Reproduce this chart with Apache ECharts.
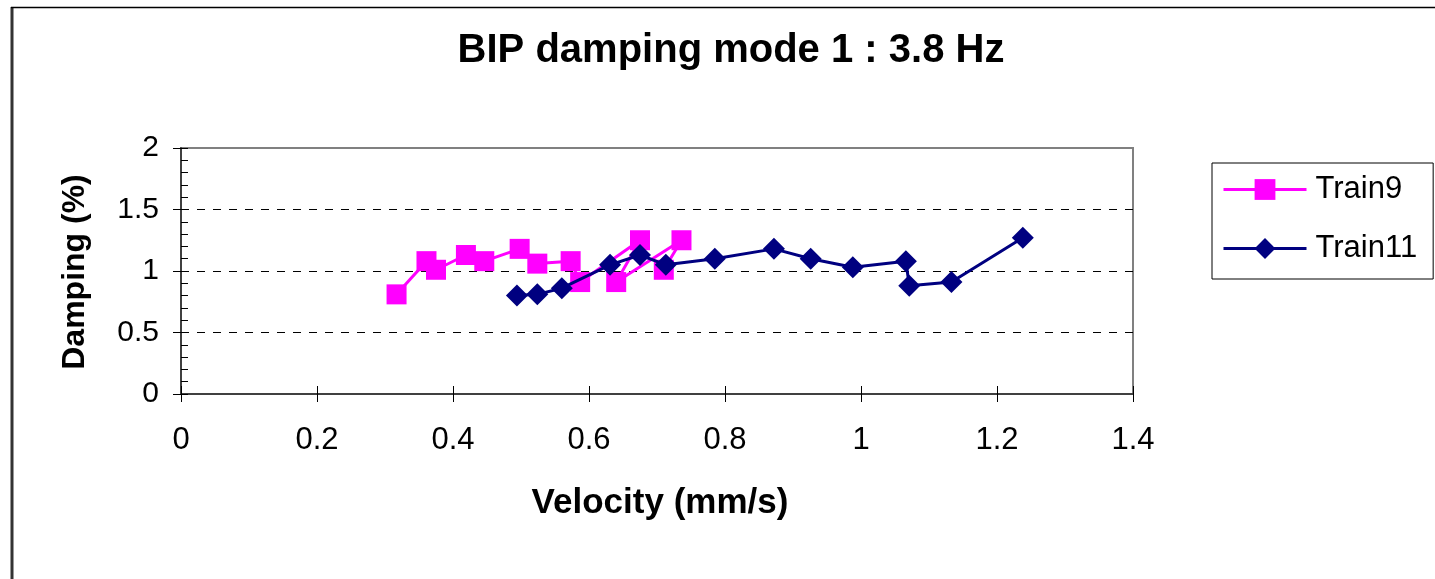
<!DOCTYPE html>
<html>
<head>
<meta charset="utf-8">
<script src="https://cdn.jsdelivr.net/npm/echarts@6/dist/echarts.min.js"></script>
<style>
html,body{margin:0;padding:0;background:#fff;}
#c{width:1435px;height:579px;}
</style>
</head>
<body>
<div id="c"></div>
<script>
const titleText = 'BIP damping mode 1 : 3.8 Hz';
const xAxisTitle = 'Velocity (mm/s)';
const yAxisTitle = 'Damping (%)';
const seriesNames = ['Train9', 'Train11'];

const train9X = [0.317, 0.361, 0.375, 0.419, 0.446, 0.498, 0.524, 0.573, 0.587, 0.675, 0.640, 0.736, 0.710];
const train9Y = [0.81, 1.08, 1.01, 1.13, 1.08, 1.18, 1.06, 1.08, 0.91, 1.25, 0.91, 1.25, 1.01];

const train11X = [0.494, 0.524, 0.560, 0.631, 0.675, 0.713, 0.785, 0.872, 0.926, 0.988, 1.066, 1.071, 1.133, 1.238];
const train11Y = [0.80, 0.81, 0.86, 1.05, 1.13, 1.05, 1.10, 1.18, 1.10, 1.03, 1.08, 0.88, 0.91, 1.27];

const xMin = 0, xMax = 1.4, xStep = 0.2;
const yMin = 0, yMax = 2, yStep = 0.5, yMinorStep = 0.1;

const FONT = '"Liberation Sans", Arial, sans-serif';

function pairs(xs, ys) { return xs.map((x, i) => [x, ys[i]]); }

const chart = echarts.init(document.getElementById('c'), null, {renderer: 'canvas'});
chart.setOption({
  animation: false,
  backgroundColor: '#fff',
  textStyle: {fontFamily: FONT},
  grid: {left: 181, top: 148, right: 302, bottom: 185, show: true, borderColor: '#808080', borderWidth: 2, backgroundColor: 'transparent'},
  graphic: [
    {type: 'line', shape: {x1: 12, y1: 7, x2: 12, y2: 579}, style: {stroke: '#333', lineWidth: 3}, silent: true},
    {type: 'line', shape: {x1: 11, y1: 7.5, x2: 1435, y2: 7.5}, style: {stroke: '#000', lineWidth: 1.5}, silent: true},
    {type: 'text', style: {text: titleText, font: 'bold 40px ' + FONT, fill: '#000', textAlign: 'center', textVerticalAlign: 'middle'}, x: 731, y: 51},
    {type: 'text', style: {text: xAxisTitle, font: 'bold 35px ' + FONT, fill: '#000', textAlign: 'center', textVerticalAlign: 'middle'}, x: 660, y: 503},
    {type: 'text', style: {text: yAxisTitle, font: 'bold 32px ' + FONT, fill: '#000', textAlign: 'center', textVerticalAlign: 'middle'}, x: 75, y: 272, rotation: Math.PI / 2}
  ],
  legend: {
    orient: 'vertical', left: 1212, top: 163,
    padding: [11, 16, 15, 10],
    itemGap: 28, itemWidth: 83, itemHeight: 26,
    borderColor: '#000', borderWidth: 1, backgroundColor: '#fff',
    lineStyle: {width: 3},
    textStyle: {fontSize: 31, fontFamily: FONT, color: '#000', padding: [0, 0, 0, 4]},
    data: seriesNames
  },
  xAxis: [
    {type: 'value', min: xMin, max: xMax, interval: xStep,
     axisLine: {show: true, lineStyle: {color: '#404040', width: 2}},
     axisTick: {show: true, inside: false, length: 8, lineStyle: {color: '#000', width: 1}},
     axisLabel: {margin: 31, fontSize: 31, color: '#000', fontFamily: FONT},
     splitLine: {show: false}},
    {type: 'value', min: xMin, max: xMax, interval: xStep, position: 'bottom',
     axisLine: {show: false}, axisTick: {show: true, inside: true, length: 8, lineStyle: {color: '#000', width: 1}},
     axisLabel: {show: false}, splitLine: {show: false}}
  ],
  yAxis: [
    {type: 'value', min: yMin, max: yMax, interval: yStep,
     axisLine: {show: true, lineStyle: {color: '#404040', width: 2}},
     axisTick: {show: true, inside: false, length: 8, lineStyle: {color: '#000', width: 1}},
     axisLabel: {margin: 22, fontSize: 30, color: '#000', fontFamily: FONT},
     splitLine: {show: true, showMinLine: false, showMaxLine: false, lineStyle: {color: '#000', width: 1, type: [8, 8]}}},
    {type: 'value', min: yMin, max: yMax, interval: yMinorStep, position: 'left',
     axisLine: {show: false}, axisTick: {show: true, inside: true, length: 7, lineStyle: {color: '#000', width: 1}},
     axisLabel: {show: false}, splitLine: {show: false}}
  ],
  series: [
    {name: seriesNames[0], type: 'line', data: pairs(train9X, train9Y),
     symbol: 'rect', symbolSize: 20, showAllSymbol: true,
     lineStyle: {color: '#FF00FF', width: 3}, itemStyle: {color: '#FF00FF'}, color: '#FF00FF', z: 2},
    {name: seriesNames[1], type: 'line', data: pairs(train11X, train11Y),
     symbol: 'diamond', symbolSize: 22, showAllSymbol: true,
     lineStyle: {color: '#000080', width: 3}, itemStyle: {color: '#000080'}, color: '#000080', z: 3}
  ]
});
</script>
</body>
</html>
